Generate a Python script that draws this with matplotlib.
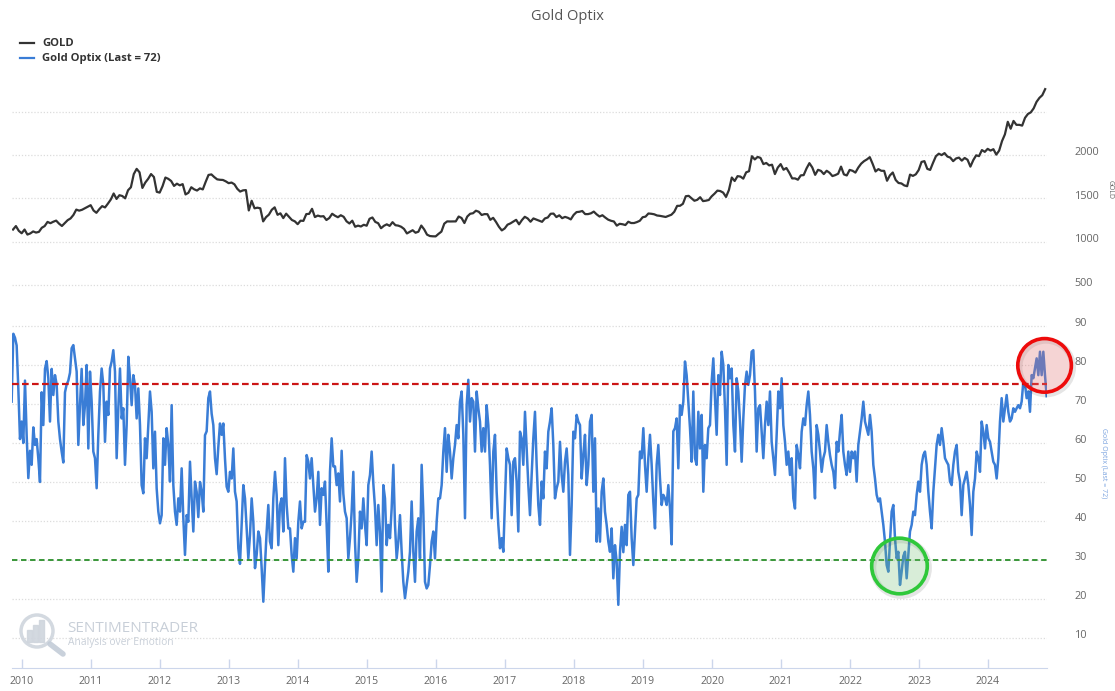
import numpy as np
import matplotlib
matplotlib.use('Agg')
import matplotlib.pyplot as plt
from matplotlib.patches import Circle, Rectangle
from matplotlib.lines import Line2D
from matplotlib.transforms import ScaledTranslation

plt.rcParams['font.family'] = ['Open Sans', 'DejaVu Sans']

# ---------------- data ----------------
# Gold price, two readings per month (mid-month, month-end), Nov 2009 .. Oct 2024
gold_2009 = [1140, 1180, 1125, 1097]
gold_2010 = [1140, 1082, 1095, 1118, 1105, 1113, 1160, 1180, 1228, 1213, 1230, 1243,
             1208, 1181, 1215, 1248, 1268, 1308, 1370, 1358, 1368, 1386, 1404, 1421]
gold_2011 = [1360, 1333, 1375, 1410, 1395, 1439, 1486, 1556, 1493, 1536, 1527, 1500,
             1593, 1628, 1780, 1840, 1800, 1620, 1682, 1725, 1780, 1746, 1575, 1566]
gold_2012 = [1640, 1740, 1725, 1700, 1643, 1669, 1650, 1664, 1545, 1564, 1628, 1604,
             1590, 1615, 1603, 1690, 1770, 1776, 1745, 1719, 1714, 1712, 1696, 1675]
gold_2013 = [1682, 1662, 1610, 1578, 1592, 1595, 1360, 1472, 1385, 1392, 1385, 1234,
             1283, 1312, 1368, 1396, 1310, 1327, 1272, 1323, 1287, 1250, 1235, 1202]
gold_2014 = [1242, 1240, 1318, 1321, 1379, 1284, 1301, 1291, 1294, 1250, 1273, 1322,
             1299, 1282, 1305, 1287, 1235, 1210, 1242, 1172, 1185, 1175, 1195, 1184]
gold_2015 = [1264, 1279, 1228, 1213, 1155, 1183, 1200, 1182, 1225, 1190, 1185, 1172,
             1147, 1095, 1113, 1132, 1103, 1115, 1186, 1142, 1081, 1065, 1062, 1061]
gold_2016 = [1090, 1116, 1208, 1234, 1233, 1234, 1234, 1290, 1273, 1215, 1290, 1322,
             1328, 1357, 1345, 1308, 1318, 1317, 1252, 1275, 1227, 1172, 1130, 1152]
gold_2017 = [1196, 1211, 1232, 1252, 1200, 1249, 1287, 1268, 1230, 1268, 1255, 1242,
             1229, 1268, 1279, 1322, 1324, 1284, 1304, 1271, 1286, 1275, 1257, 1309]
gold_2018 = [1341, 1345, 1354, 1318, 1318, 1327, 1347, 1315, 1290, 1305, 1278, 1254,
             1241, 1233, 1185, 1206, 1201, 1192, 1230, 1215, 1215, 1226, 1241, 1282]
gold_2019 = [1289, 1325, 1322, 1316, 1302, 1298, 1291, 1285, 1298, 1311, 1345, 1413,
             1414, 1437, 1524, 1529, 1500, 1472, 1483, 1513, 1468, 1473, 1481, 1523]
gold_2020 = [1554, 1589, 1584, 1566, 1516, 1596, 1740, 1700, 1756, 1751, 1727, 1800,
             1813, 1986, 1949, 1978, 1966, 1895, 1908, 1880, 1888, 1780, 1855, 1895]
gold_2021 = [1830, 1850, 1795, 1730, 1730, 1715, 1765, 1768, 1845, 1906, 1856, 1771,
             1829, 1817, 1780, 1818, 1795, 1757, 1768, 1784, 1866, 1776, 1764, 1828]
gold_2022 = [1818, 1797, 1855, 1900, 1929, 1949, 1975, 1897, 1810, 1837, 1818, 1817,
             1703, 1765, 1798, 1712, 1677, 1672, 1649, 1640, 1774, 1759, 1777, 1826]
gold_2023 = [1920, 1929, 1840, 1828, 1910, 1986, 2015, 1999, 2022, 1982, 1970, 1929,
             1960, 1970, 1935, 1966, 1945, 1866, 1941, 1996, 1987, 2057, 2036, 2071]
gold_2024 = [2051, 2067, 2004, 2051, 2161, 2238, 2383, 2303, 2393, 2348, 2348, 2339,
             2429, 2473, 2492, 2538, 2613, 2659, 2690, 2760]

# Gold Optix readings (evenly spaced in time, late 2009 .. late 2024)
optix_2010_2012 = [
    70.6, 88, 87, 85, 74, 61, 65.5, 60, 76, 62,
    51, 58, 54.4, 64, 59.5, 61, 56, 50, 73, 64.6,
    79, 81, 76.6, 65.5, 79, 72.3, 77.4, 75, 65.5, 61,
    57.8, 55, 73, 75, 76, 78, 84.3, 85.1, 81.7, 78.3,
    59.5, 69.7, 79, 64.6, 69.7, 80, 58.6, 78.3, 70.6, 57.8,
    56.1, 48.4, 62.1, 73.2, 79.1, 74.9, 60.3, 70.6, 67.2, 79.1,
    80.9, 83.8, 78.3, 56.1, 68.9, 79.1, 66.3, 68.9, 54.4, 64.6,
    82.1, 76.6, 69.7, 77.4, 74.9, 66.3, 74, 64.6, 49.2, 47.1,
    61.2, 56.1, 64.6, 73.2, 68, 53.5, 62.9, 48.4, 42.4, 39.4,
    41.5, 61.2, 54.4, 63.8, 59.5, 50.1, 69.7, 49.2, 42.4, 39,
    45.8, 42.4, 53.5, 40.7]
optix_2012_2014 = [
    31.3, 41.5, 39.8, 55.2, 45.8, 37.3, 50.1, 47.5, 41, 50,
    47.5, 42.4, 62, 63, 71.5, 73.2, 67.5, 64.6, 56.1, 52,
    59, 65, 62.1, 65, 56, 48.8, 47.5, 52.6, 50.9, 58.6,
    47.5, 45, 33, 29, 39, 49.2, 45.8, 38.1, 30.4, 36.4,
    45.8, 39.8, 27.9, 31.3, 37.3, 35.6, 27.9, 19.3, 28.7, 37.3,
    44.1, 34.7, 33, 45.8, 52.6, 46.7, 33.8, 44.1, 45.8, 37.3,
    56.1, 44.1, 38.1, 38.1, 31.3, 27, 35.6, 30.4, 39.8, 45,
    38.1, 39.8, 39.8, 56.9, 55.2, 50.9, 56.1, 49.2, 42.4, 45.8,
    52.6, 39, 48.4, 46.7, 50.1, 39, 27, 52.6, 61.2, 54,
    54, 49.2, 52.2, 45, 58, 47, 42.4, 40.7, 30.4, 35.6,
    42.4, 52.6, 34.7, 24.4, 30.4]
optix_2014_2017 = [
    42.4, 38.1, 45.8, 39, 33.8, 49.2, 51.8, 57.8, 49.6, 43.5,
    33.8, 44.1, 37.3, 21.9, 49.2, 45.8, 33.8, 39, 35.6, 43.2,
    54.4, 39, 30.4, 34.7, 41.5, 32.1, 24.4, 20.2, 23.6, 27,
    32.1, 45, 32.1, 24.4, 37.3, 40.7, 30.4, 54.4, 42.4, 24.4,
    22.7, 23.6, 28.7, 34.7, 37.3, 30.4, 39.8, 45.8, 45.8, 49.2,
    57.8, 63.8, 52.6, 62.1, 57.8, 50.9, 56.1, 59.5, 64.6, 61.2,
    70.6, 73.2, 62.1, 40.7, 69.7, 76.2, 65.5, 71.5, 70.6, 57.8,
    73.2, 68.9, 65.5, 57.8, 63.8, 57.8, 69.7, 64.6, 54.4, 40.7,
    57.8, 62.1, 47.5, 39, 33, 35.6, 32.1, 45.8, 58.6, 56.1,
    54.4, 41.5, 55.2, 56.1, 50.1, 37.3, 62.9, 61.2, 54.4, 68,
    58.6, 49.2, 41.5, 51.8, 61.2]
optix_2017_2019 = [
    68, 54.4, 44.1, 39, 50.1, 45.8, 57.8, 53.5, 62.9, 65.5,
    68.9, 59.5, 45.8, 48.4, 50.1, 60.3, 51.8, 47.5, 55.2, 58.6,
    51.8, 31.3, 44.1, 62.9, 61.2, 67.2, 65.5, 64.6, 50.9, 56.9,
    62.1, 49.2, 54.4, 65.5, 67.2, 47.5, 61.2, 34.7, 43.2, 34.7,
    47.5, 50.9, 42.4, 39, 34.7, 32.1, 38.1, 25.3, 33.8, 29.6,
    18.5, 32.1, 38.5, 32, 39, 33.8, 46.7, 47.5, 35.6, 28.7,
    37.3, 45.8, 46.7, 57.8, 56.1, 63.8, 54.4, 47.5, 56.1, 62.1,
    54.4, 45, 38.1, 54.4, 59.5, 50.9, 44.1, 46.7, 45.8, 44.1,
    49.2, 43.2, 34, 63, 63.8, 66.3, 53.5, 69.7, 67.2, 70.6,
    80.9, 77.4, 70.6, 63.8, 55.2, 73.2, 56.1, 54.4, 68, 58.6,
    67.2, 47.5, 59.5, 56.1, 63.8]
optix_2020_2022 = [
    64.6, 75.7, 81.7, 71.5, 62.1, 77.4, 72.3, 83.4, 80, 68.9,
    54.4, 80, 76.6, 79.1, 64.6, 57.8, 76.6, 73.2, 65.5, 55.2,
    66.3, 74.9, 78.3, 74.9, 77.4, 83.4, 83.8, 73.2, 57.8, 68.9,
    69.7, 62.9, 56.1, 64.6, 70.6, 64.6, 73.2, 60.3, 56.1, 51.8,
    62.1, 73.2, 68.9, 76.6, 64.6, 60.3, 54.4, 57.8, 51.8, 56.1,
    45.8, 43.2, 59.5, 57, 53.5, 62.9, 66.3, 64.6, 69.7, 73.2,
    67.2, 57.8, 53.5, 45.8, 64.6, 62.1, 57.8, 52.6, 56.1, 57.8,
    64.6, 60.3, 56.9, 54.4, 52.6, 48.4, 60.3, 57.8, 62.9, 67.2,
    57.8, 54.4, 51.8, 57.8, 52.6, 57.8, 56.1, 57.8, 50.1, 59.5,
    62.9, 66.3, 70.6, 65.5, 63.8, 62.1, 67.2, 62.9, 54.4, 50.9,
    46.7, 45]
optix_2022_2024 = [
    45.8, 42.4, 39, 34.7, 28.7, 27, 34.7, 42.4, 44.1, 35.6,
    30.4, 32.1, 23.6, 27, 31, 32.1, 25.3, 31.3, 37.3, 39,
    42.4, 41.5, 46.7, 50.1, 47.5, 54.4, 56.9, 57.8, 54.4, 47.5,
    42.4, 38.1, 47.5, 53.5, 59.5, 62.1, 59.5, 63.8, 60.3, 56.1,
    55.2, 54.4, 50.1, 49.2, 54.4, 57.8, 59.5, 52.6, 50.1, 41.5,
    49.2, 50.9, 52.6, 49.2, 44.1, 36.4, 47.5, 50.9, 57.8, 56.1,
    52.6, 65.5, 62.9, 58.6, 64.6, 61.2, 60.3, 57.8, 55.2, 54.4,
    50.9, 56.1, 65.5, 71.5, 65.5, 68.9, 72.3, 68, 65.5, 66.3,
    68.9, 68, 68.9, 69.7, 68.9, 70.6, 75.7, 74.9, 71.5, 73.2,
    68, 77.4, 76.6, 79.1, 81.7, 77.4, 83.4, 77.4, 83.4, 77.4,
    72]

year_ticks = list(range(2010, 2025))
gold_ticks = [500, 1000, 1500, 2000, 2500]
gold_tick_labels = ['500', '1000', '1500', '2000', '']
optix_ticks = [10, 20, 30, 40, 50, 60, 70, 80, 90]
upper_band = 75
lower_band = 30

gold = np.array(gold_2009 + gold_2010 + gold_2011 + gold_2012 + gold_2013 + gold_2014 +
                gold_2015 + gold_2016 + gold_2017 + gold_2018 + gold_2019 + gold_2020 +
                gold_2021 + gold_2022 + gold_2023 + gold_2024, dtype=float)
gold_t = 2009.87 + np.arange(len(gold)) / 24.0

optix = np.array(optix_2010_2012 + optix_2012_2014 + optix_2014_2017 +
                 optix_2017_2019 + optix_2020_2022 + optix_2022_2024, dtype=float)
optix_t = np.linspace(2009.85, 2024.85, len(optix))

# ---------------- figure ----------------
W, H = 1115, 691
fig = plt.figure(figsize=(W / 100, H / 100), dpi=100)
fig.patch.set_facecolor('white')


def fx(px):
    return px / W


def fy(py):
    return 1 - py / H


left, right = 12, 1047
ax_g = fig.add_axes([fx(left), fy(300), fx(right) - fx(left), fy(75) - fy(300)])
ax_o = fig.add_axes([fx(left), fy(668), fx(right) - fx(left), fy(318) - fy(668)])

XMIN, XMAX = 2009.855, 2024.855
grid_kw = dict(color='#dcdcdc', linestyle=(0, (1, 1.5)), linewidth=0.9)
label_col = '#666666'

# Gold panel
ax_g.plot(gold_t, gold, color='#333333', lw=1.6, zorder=3)
ax_g.set_xlim(XMIN, XMAX)
ax_g.set_ylim(327, 2923)
ax_g.set_yticks(gold_ticks)
ax_g.set_yticklabels(gold_tick_labels)
ax_g.grid(axis='y', **grid_kw)
ax_g.yaxis.tick_right()
ax_g.tick_params(axis='y', length=0, pad=20, labelsize=7.8, labelcolor=label_col)
ax_g.tick_params(axis='x', bottom=False, labelbottom=False)
for s in ax_g.spines.values():
    s.set_visible(False)
ax_g.set_facecolor('none')

# Optix panel
ax_o.plot(optix_t, optix, color='#3a7dd6', lw=1.8, zorder=3, solid_joinstyle='round')
ax_o.axhline(upper_band, color='#cc1515', lw=1.6, ls=(0, (3, 1.5)), zorder=4)
ax_o.axhline(lower_band, color='#2a8f2a', lw=1.3, ls=(0, (3, 2)), zorder=4)
ax_o.set_xlim(XMIN, XMAX)
ax_o.set_ylim(2.3, 92.05)
ax_o.set_yticks(optix_ticks)
ax_o.grid(axis='y', **grid_kw)
ax_o.yaxis.tick_right()
ax_o.tick_params(axis='y', length=0, pad=20, labelsize=7.8, labelcolor=label_col)
ax_o.set_xticks(year_ticks)
ax_o.set_xticklabels([str(y) for y in year_ticks])
ax_o.tick_params(axis='x', direction='in', length=6.5, width=1, color='#ccd6eb',
                 pad=5.5, labelsize=7.6, labelcolor=label_col)
for name, s in ax_o.spines.items():
    s.set_visible(name == 'bottom')
ax_o.spines['bottom'].set_color('#ccd6eb')
ax_o.set_facecolor('none')

# shift right-hand tick labels slightly upward (Highcharts style)
up = ScaledTranslation(0, 3.5 / 100, fig.dpi_scale_trans)
for ax in (ax_g, ax_o):
    for lab in ax.get_yticklabels():
        lab.set_transform(lab.get_transform() + up)


# highlight circles
def ring(ax, x, y, r_px, edge, face):
    tr = fig.dpi_scale_trans + ScaledTranslation(x, y, ax.transData)
    shadow = Circle((0.015, -0.02), r_px / 100, transform=tr, fill=False,
                    ec=(0, 0, 0, 0.10), lw=4.5, clip_on=False, zorder=5)
    c = Circle((0, 0), r_px / 100, transform=tr, fc=face, ec=edge, lw=2.6,
               clip_on=False, zorder=6)
    ax.add_patch(shadow)
    ax.add_patch(c)


ring(ax_o, 2024.82, 79.9, 26.8, '#ee0b0b', (0.88, 0.45, 0.45, 0.30))
ring(ax_o, 2022.717, 28.46, 27.8, '#2fc83a', (0.45, 0.75, 0.45, 0.28))

# axis titles
fig.text(fx(1110), fy(190), 'GOLD', rotation=270, ha='center', va='center',
         fontsize=5, color=label_col)
fig.text(fx(1103), fy(463), 'Gold Optix (Last = 72)', rotation=270, ha='center',
         va='center', fontsize=5, color='#7aa3df')

# title
fig.text(fx(567), fy(17), 'Gold Optix', ha='center', va='center', fontsize=10.5,
         color='#555555')

# overlay for legend and watermark (pixel coordinates)
ov = fig.add_axes([0, 0, 1, 1])
ov.set_xlim(0, W)
ov.set_ylim(H, 0)
ov.axis('off')
ov.patch.set_visible(False)

ov.add_line(Line2D([20, 34], [43, 43], color='#333333', lw=1.6))
ov.add_line(Line2D([20, 34], [58, 58], color='#3a7dd6', lw=1.6))
ov.text(42, 43, 'GOLD', fontsize=8.1, fontweight='bold', color='#333333',
        va='center', ha='left')
ov.text(42, 58, 'Gold Optix (Last = 72)', fontsize=8.1, fontweight='bold',
        color='#333333', va='center', ha='left')

# watermark
wm = '#cfd5dd'
ov.add_patch(Circle((37, 631), 16, fill=False, ec=wm, lw=2.5, alpha=0.9))
ov.add_patch(Rectangle((27, 630), 4.5, 12, color=wm, alpha=0.9))
ov.add_patch(Rectangle((33, 625), 4.5, 17, color=wm, alpha=0.9))
ov.add_patch(Rectangle((39, 620), 4.5, 22, color=wm, alpha=0.9))
ov.add_line(Line2D([50, 63], [644, 654], color='#c3ccd8', lw=4, alpha=0.9,
                   solid_capstyle='round'))
ov.text(67, 629, 'SENTIMENTRADER', fontsize=11, color='#c8cfd8', va='center',
        ha='left')
ov.text(68, 643, 'Analysis over Emotion', fontsize=7.4, color='#c8cfd8',
        va='center', ha='left')

fig.savefig('out.png', dpi=100)
